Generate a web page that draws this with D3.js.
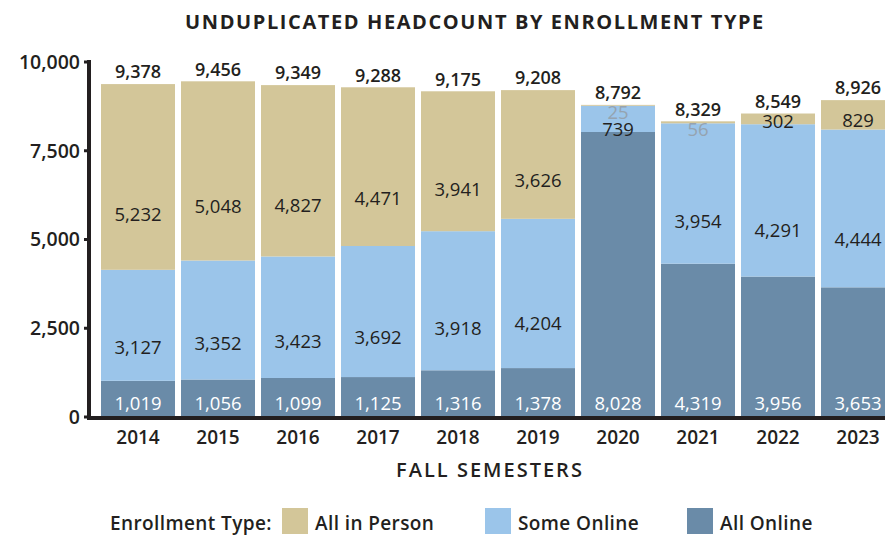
<!DOCTYPE html>
<html>
  <head>
    <meta charset="utf-8">
    <script src="https://d3js.org/d3.v7.min.js"></script>
    <style>
      body { margin: 0; background: #fff; }
      text { font-family: "Open Sans", sans-serif; fill: #231f20; }
    </style>
  </head>
  <body>
    <script type="text/javascript">
      // values, fall semesters
      var years = ["2014", "2015", "2016", "2017", "2018", "2019", "2020", "2021", "2022", "2023"];
      var allOnline = [1019, 1056, 1099, 1125, 1316, 1378, 8028, 4319, 3956, 3653];
      var someOnline = [3127, 3352, 3423, 3692, 3918, 4204, 739, 3954, 4291, 4444];
      var allInPerson = [5232, 5048, 4827, 4471, 3941, 3626, 25, 56, 302, 829];
      var totals = [9378, 9456, 9349, 9288, 9175, 9208, 8792, 8329, 8549, 8926];
      var yTicks = [0, 2500, 5000, 7500, 10000];
      var seriesNames = ["All Online", "Some Online", "All in Person"];
      var legendOrder = ["All in Person", "Some Online", "All Online"];

      var colors = {
        "All in Person": "#d3c699",
        "Some Online": "#9bc5ea",
        "All Online": "#6a8ba8"
      };

      var W = 885, H = 535;
      var svg = d3.select("body").append("svg")
          .attr("width", W).attr("height", H);

      var x = d3.scaleBand()
          .domain(years)
          .range([98, 898])
          .paddingInner(0.075)
          .paddingOuter(0.0375);

      var y = d3.scaleLinear()
          .domain([0, 10000])
          .range([417, 62]);

      // build stack rows
      var rows = years.map(function (yr, i) {
        return { year: yr, "All Online": allOnline[i], "Some Online": someOnline[i],
                 "All in Person": allInPerson[i], total: totals[i] };
      });
      var stacked = d3.stack().keys(seriesNames)(rows);

      // title
      svg.append("text")
        .attr("x", 475).attr("y", 29)
        .attr("text-anchor", "middle")
        .style("font-size", "20px")
        .style("font-weight", "700")
        .style("letter-spacing", "1.6px")
        .text("UNDUPLICATED HEADCOUNT BY ENROLLMENT TYPE");

      // bars
      svg.selectAll("g.series")
        .data(stacked)
        .enter().append("g")
          .attr("class", "series")
          .attr("fill", function (d) { return colors[d.key]; })
        .selectAll("rect")
        .data(function (d) { return d; })
        .enter().append("rect")
          .attr("x", function (d) { return x(d.data.year); })
          .attr("width", x.bandwidth())
          .attr("y", function (d) { return y(d[1]); })
          .attr("height", function (d) { return y(d[0]) - y(d[1]); });

      // segment labels
      var labels = [];
      years.forEach(function (yr, i) {
        var cx = x(yr) + x.bandwidth() / 2;
        var blue = stacked[1][i], tan = stacked[2][i];
        // all online sits at the foot of the bar
        labels.push({ x: cx, y: y(0) - 13, text: allOnline[i], fill: "#fff" });
        var segY = function (s) {
          var top = y(s[1]), bot = y(s[0]);
          if (bot - top < 12) return top + 8;
          return top + 0.7 * (bot - top);
        };
        var by = segY(blue), ty = segY(tan);
        if (by - ty < 17) by = ty + 17;
        labels.push({ x: cx, y: by, text: someOnline[i], fill: "#231f20" });
        var tiny = y(tan[0]) - y(tan[1]) < 5;
        labels.push({ x: cx, y: ty, text: allInPerson[i], fill: tiny ? "#95a3b0" : "#231f20" });
      });

      svg.selectAll("text.seg")
        .data(labels)
        .enter().append("text")
          .attr("class", "seg")
          .attr("x", function (d) { return d.x; })
          .attr("y", function (d) { return d.y; })
          .attr("dy", "0.35em")
          .attr("text-anchor", "middle")
          .style("font-size", "18.5px")
          .style("fill", function (d) { return d.fill; })
          .text(function (d) { return d3.format(",")(d.text); });

      // totals above bars
      svg.selectAll("text.total")
        .data(rows)
        .enter().append("text")
          .attr("class", "total")
          .attr("x", function (d) { return x(d.year) + x.bandwidth() / 2; })
          .attr("y", function (d) { return y(d.total) - 12; })
          .attr("dy", "0.35em")
          .attr("text-anchor", "middle")
          .style("font-size", "18px")
          .style("font-weight", "600")
          .text(function (d) { return d3.format(",")(d.total); });

      // y axis
      svg.append("line")
        .attr("x1", 89).attr("x2", 89)
        .attr("y1", y(10000) - 2).attr("y2", y(0) + 2)
        .attr("stroke", "#231f20").attr("stroke-width", 4);
      svg.selectAll("line.ytick")
        .data(yTicks)
        .enter().append("line")
          .attr("class", "ytick")
          .attr("x1", 84).attr("x2", 89)
          .attr("y1", function (d) { return y(d); })
          .attr("y2", function (d) { return y(d); })
          .attr("stroke", "#231f20").attr("stroke-width", 3);
      svg.selectAll("text.ylab")
        .data(yTicks)
        .enter().append("text")
          .attr("class", "ylab")
          .attr("x", 80)
          .attr("y", function (d) { return y(d); })
          .attr("dy", "0.35em")
          .attr("text-anchor", "end")
          .style("font-size", "19.5px")
          .style("font-weight", "600")
          .text(function (d) { return d3.format(",")(d); });

      // x axis
      svg.append("line")
        .attr("x1", 87).attr("x2", W)
        .attr("y1", y(0) + 1).attr("y2", y(0) + 1)
        .attr("stroke", "#231f20").attr("stroke-width", 4);
      svg.selectAll("text.xlab")
        .data(years)
        .enter().append("text")
          .attr("class", "xlab")
          .attr("x", function (d) { return x(d) + x.bandwidth() / 2; })
          .attr("y", 437)
          .attr("dy", "0.35em")
          .attr("text-anchor", "middle")
          .style("font-size", "19px")
          .style("font-weight", "600")
          .text(function (d) { return d; });

      svg.append("text")
        .attr("x", 490).attr("y", 470)
        .attr("dy", "0.35em")
        .attr("text-anchor", "middle")
        .style("font-size", "20px")
        .style("font-weight", "600")
        .style("letter-spacing", "2px")
        .text("FALL SEMESTERS");

      // legend
      svg.append("text")
        .attr("x", 110).attr("y", 523)
        .attr("dy", "0.35em")
        .style("font-size", "19px")
        .style("font-weight", "600")
        .style("letter-spacing", "0.4px")
        .text("Enrollment Type:");

      var legX = [282, 485, 687];
      var leg = svg.selectAll("g.leg")
        .data(legendOrder)
        .enter().append("g")
          .attr("class", "leg")
          .attr("transform", function (d, i) { return "translate(" + legX[i] + ",508)"; });
      leg.append("rect")
        .attr("width", 26).attr("height", 26)
        .attr("fill", function (d) { return colors[d]; });
      leg.append("text")
        .attr("x", 33).attr("y", 15)
        .attr("dy", "0.35em")
        .style("font-size", "19px")
        .style("font-weight", "600")
        .style("letter-spacing", "0.4px")
        .text(function (d) { return d; });
    </script>
  </body>
</html>
